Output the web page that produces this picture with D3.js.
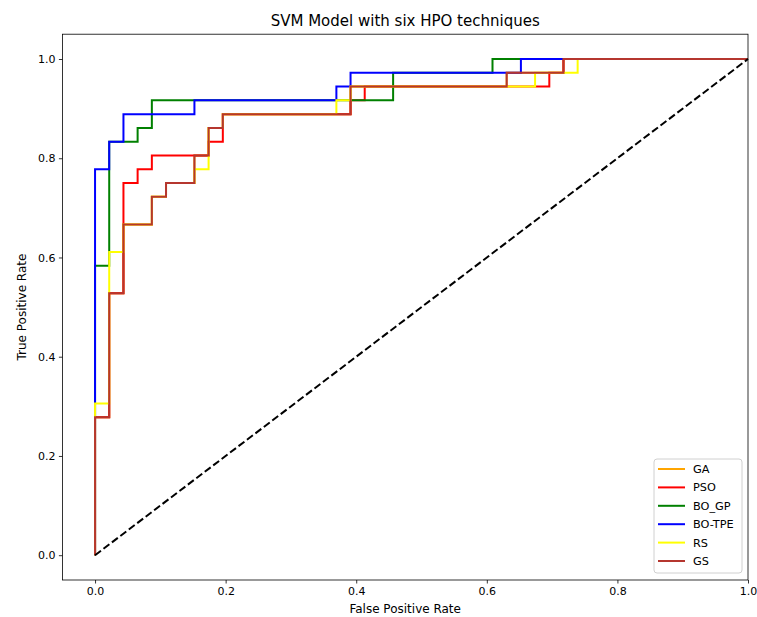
<!DOCTYPE html>
<html lang="en">
<head>
    <meta charset="UTF-8">
    <title>SVM Model with six HPO techniques</title>
    <style>
        body { margin: 0; background: #fff; }
        text { font-family: "DejaVu Sans", sans-serif; fill: #000; }
    </style>
</head>
<body>
    <div id="chart"></div>

    <script src="https://d3js.org/d3.v7.min.js"></script>

    <script>
        // ROC points (corner points)
        var gaFpr = [0, 0, 0.0217, 0.0217, 0.0435, 0.0435, 0.087, 0.087, 0.1087, 0.1087, 0.1522, 0.1522, 0.1739, 0.1739, 0.1957, 0.1957, 0.3913, 0.3913, 0.6304, 0.6304, 0.7174, 0.7174, 1];
        var gaTpr = [0, 0.2778, 0.2778, 0.5278, 0.5278, 0.6667, 0.6667, 0.7222, 0.7222, 0.75, 0.75, 0.8056, 0.8056, 0.8611, 0.8611, 0.8889, 0.8889, 0.9444, 0.9444, 0.9722, 0.9722, 1, 1];

        var psoFpr = [0, 0, 0.0217, 0.0217, 0.0435, 0.0435, 0.0652, 0.0652, 0.087, 0.087, 0.1739, 0.1739, 0.1957, 0.1957, 0.3913, 0.3913, 0.413, 0.413, 0.6957, 0.6957, 0.7174, 0.7174, 1];
        var psoTpr = [0, 0.2778, 0.2778, 0.5278, 0.5278, 0.75, 0.75, 0.7778, 0.7778, 0.8056, 0.8056, 0.8333, 0.8333, 0.8889, 0.8889, 0.9167, 0.9167, 0.9444, 0.9444, 0.9722, 0.9722, 1, 1];

        var bogpFpr = [0, 0, 0.0217, 0.0217, 0.0652, 0.0652, 0.087, 0.087, 0.4565, 0.4565, 0.6087, 0.6087, 1];
        var bogpTpr = [0, 0.5833, 0.5833, 0.8333, 0.8333, 0.8611, 0.8611, 0.9167, 0.9167, 0.9722, 0.9722, 1, 1];

        var botpeFpr = [0, 0, 0.0217, 0.0217, 0.0435, 0.0435, 0.1522, 0.1522, 0.3696, 0.3696, 0.3913, 0.3913, 0.6522, 0.6522, 1];
        var botpeTpr = [0, 0.7778, 0.7778, 0.8333, 0.8333, 0.8889, 0.8889, 0.9167, 0.9167, 0.9444, 0.9444, 0.9722, 0.9722, 1, 1];

        var rsFpr = [0, 0, 0.0217, 0.0217, 0.0435, 0.0435, 0.087, 0.087, 0.1087, 0.1087, 0.1522, 0.1522, 0.1739, 0.1739, 0.1957, 0.1957, 0.3696, 0.3696, 0.3913, 0.3913, 0.6739, 0.6739, 0.7391, 0.7391, 1];
        var rsTpr = [0, 0.3056, 0.3056, 0.6111, 0.6111, 0.6667, 0.6667, 0.7222, 0.7222, 0.75, 0.75, 0.7778, 0.7778, 0.8611, 0.8611, 0.8889, 0.8889, 0.9167, 0.9167, 0.9444, 0.9444, 0.9722, 0.9722, 1, 1];

        var gsFpr = [0, 0, 0.0217, 0.0217, 0.0435, 0.0435, 0.087, 0.087, 0.1087, 0.1087, 0.1522, 0.1522, 0.1739, 0.1739, 0.1957, 0.1957, 0.3913, 0.3913, 0.6304, 0.6304, 0.7174, 0.7174, 1];
        var gsTpr = [0, 0.2778, 0.2778, 0.5278, 0.5278, 0.6667, 0.6667, 0.7222, 0.7222, 0.75, 0.75, 0.8056, 0.8056, 0.8611, 0.8611, 0.8889, 0.8889, 0.9444, 0.9444, 0.9722, 0.9722, 1, 1];

        var seriesNames = ["GA", "PSO", "BO_GP", "BO-TPE", "RS", "GS"];
        var seriesColors = ["orange", "red", "green", "blue", "yellow", "#b5362f"];
        var xTicks = [0, 0.2, 0.4, 0.6, 0.8, 1.0];
        var yTicks = [0, 0.2, 0.4, 0.6, 0.8, 1.0];

        var series = [
            { fpr: gaFpr, tpr: gaTpr },
            { fpr: psoFpr, tpr: psoTpr },
            { fpr: bogpFpr, tpr: bogpTpr },
            { fpr: botpeFpr, tpr: botpeTpr },
            { fpr: rsFpr, tpr: rsTpr },
            { fpr: gsFpr, tpr: gsTpr }
        ];

        var W = 757, H = 617;
        // plot area edges (note: "top" is reserved on window, so use m* names)
        var mLeft = 62.4, mRight = 748, mTop = 34.2, mBottom = 580;

        var svg = d3.select("#chart").append("svg")
            .attr("width", W)
            .attr("height", H);

        var x = d3.scaleLinear().domain([-0.05, 1.0]).range([mLeft, mRight]);
        var y = d3.scaleLinear().domain([-0.05, 1.05]).range([mBottom, mTop]);

        // Curves
        var line = d3.line()
            .x(function(d) { return x(d[0]); })
            .y(function(d) { return y(d[1]); });

        var plot = svg.append("g");
        series.forEach(function(s, i) {
            var pts = s.fpr.map(function(f, j) { return [f, s.tpr[j]]; });
            plot.append("path")
                .datum(pts)
                .attr("d", line)
                .attr("fill", "none")
                .attr("stroke", seriesColors[i])
                .attr("stroke-width", 2)
                .attr("stroke-linejoin", "miter");
        });

        // Diagonal reference line
        plot.append("path")
            .datum([[0, 0], [1, 1]])
            .attr("d", line)
            .attr("fill", "none")
            .attr("stroke", "#000")
            .attr("stroke-width", 2)
            .attr("stroke-dasharray", "7.4,3.2");

        // Axes
        var xAxis = d3.axisBottom(x).tickValues(xTicks).tickFormat(d3.format(".1f"))
            .tickSizeOuter(0).tickSize(3.5).tickPadding(3.5);
        var yAxis = d3.axisLeft(y).tickValues(yTicks).tickFormat(d3.format(".1f"))
            .tickSizeOuter(0).tickSize(3.5).tickPadding(3.5);

        var gx = svg.append("g").attr("transform", "translate(0," + mBottom + ")").call(xAxis);
        var gy = svg.append("g").attr("transform", "translate(" + mLeft + ",0)").call(yAxis);
        [gx, gy].forEach(function(g) {
            g.select(".domain").remove();
            g.selectAll("line").attr("stroke", "#000").attr("stroke-width", 0.8);
            g.selectAll("text").attr("font-size", 11).attr("font-family", "DejaVu Sans");
        });

        // Frame
        svg.append("rect")
            .attr("x", mLeft).attr("y", mTop)
            .attr("width", mRight - mLeft).attr("height", mBottom - mTop)
            .attr("fill", "none")
            .attr("stroke", "#000")
            .attr("stroke-width", 0.8);

        // Title and labels
        svg.append("text")
            .attr("x", (mLeft + mRight) / 2).attr("y", 26)
            .attr("text-anchor", "middle")
            .attr("font-size", 15)
            .text("SVM Model with six HPO techniques");

        svg.append("text")
            .attr("x", (mLeft + mRight) / 2).attr("y", 613)
            .attr("text-anchor", "middle")
            .attr("font-size", 12)
            .text("False Positive Rate");

        svg.append("text")
            .attr("transform", "translate(26," + ((mTop + mBottom) / 2) + ") rotate(-90)")
            .attr("text-anchor", "middle")
            .attr("font-size", 12)
            .text("True Positive Rate");

        // Legend
        var legend = svg.append("g").attr("transform", "translate(654,459)");
        legend.append("rect")
            .attr("width", 88).attr("height", 114)
            .attr("rx", 3)
            .attr("fill", "#fff").attr("fill-opacity", 0.8)
            .attr("stroke", "#d0d0d0").attr("stroke-width", 1);

        seriesNames.forEach(function(name, i) {
            var yy = 10 + i * 18.4;
            legend.append("line")
                .attr("x1", 4).attr("x2", 31)
                .attr("y1", yy).attr("y2", yy)
                .attr("stroke", seriesColors[i])
                .attr("stroke-width", 2);
            legend.append("text")
                .attr("x", 39).attr("y", yy + 4)
                .attr("font-size", 11.3)
                .text(name);
        });
    </script>
</body>
</html>
